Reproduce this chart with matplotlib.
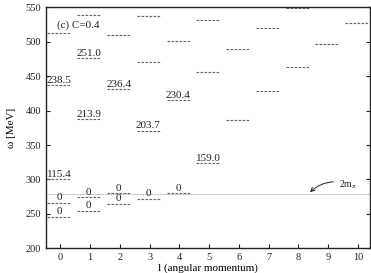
import matplotlib
matplotlib.use("Agg")
import matplotlib.pyplot as plt

plt.rcParams['font.family'] = ['Liberation Serif', 'DejaVu Serif']
plt.rcParams['mathtext.fontset'] = 'stix'

# energy levels (MeV) for each angular momentum l
l_values = [0, 1, 2, 3, 4, 5, 6, 7, 8, 9, 10]
levels = [
    [512.2, 437.2, 300.3, 266.3, 245.9],
    [539.3, 476.0, 387.8, 274.1, 254.2],
    [509.8, 431.4, 280.0, 264.4],
    [537.4, 470.1, 370.4, 271.7],
    [501.5, 415.4, 280.0],
    [531.6, 456.0, 323.5],
    [489.0, 386.4],
    [519.5, 428.5],
    [548.5, 463.8],
    [496.7],
    [526.8],
]
# text written above each level ('' = none)
level_labels = [
    ['', '238.5', '115.4', '0', '0'],
    ['', '251.0', '213.9', '0', '0'],
    ['', '236.4', '0', '0'],
    ['', '', '203.7', '0'],
    ['', '230.4', '0'],
    ['', '', '159.0'],
    ['', ''],
    ['', ''],
    ['', ''],
    [''],
    [''],
]
threshold = 279.1  # 2 m_pi
yticks = [200, 250, 300, 350, 400, 450, 500, 550]

fig = plt.figure(figsize=(3.71, 2.73), dpi=100)
ax = fig.add_axes([0.124, 0.0905, 0.8745, 0.8825])

for l, ys, labs in zip(l_values, levels, level_labels):
    x0, x1 = l - 0.43, l + 0.35
    for y, lab in zip(ys, labs):
        ax.plot([x0, x1], [y, y], color='#666666', lw=0.8, dashes=(2.4, 1.2))
        if lab:
            ax.annotate(lab, xy=((x0 + x1) / 2, y), xytext=(0, 1.8),
                        textcoords='offset points', ha='center', va='baseline',
                        fontsize=8, color='#222222')

ax.axhline(threshold, color='#888888', lw=0.6, ls=(0, (1, 1)))

ax.text(-0.12, 521, '(c) C=0.4', fontsize=8, ha='left', va='baseline', color='#222222')
ax.annotate('2m$_\\pi$', xy=(8.39, 281.5), xytext=(9.36, 289), fontsize=7,
            ha='left', va='baseline', color='#222222',
            arrowprops=dict(arrowstyle='->', color='#222222', lw=0.7,
                            shrinkA=2, shrinkB=0,
                            connectionstyle='arc3,rad=0.3'))

ax.set_xlim(-0.48, 10.42)
ax.set_ylim(200, 550)
ax.set_xticks(l_values)
ax.set_yticks(yticks)
ax.tick_params(direction='in', labelsize=7.5, length=3, width=0.8,
               right=True, top=False, colors='#222222')
for s in ax.spines.values():
    s.set_linewidth(1.0)
    s.set_color('#222222')

ax.set_xlabel('l (angular momentum)', fontsize=8, labelpad=1)
ax.set_ylabel('ω [MeV]', fontsize=8, labelpad=7)

fig.savefig('out.png', dpi=100)
